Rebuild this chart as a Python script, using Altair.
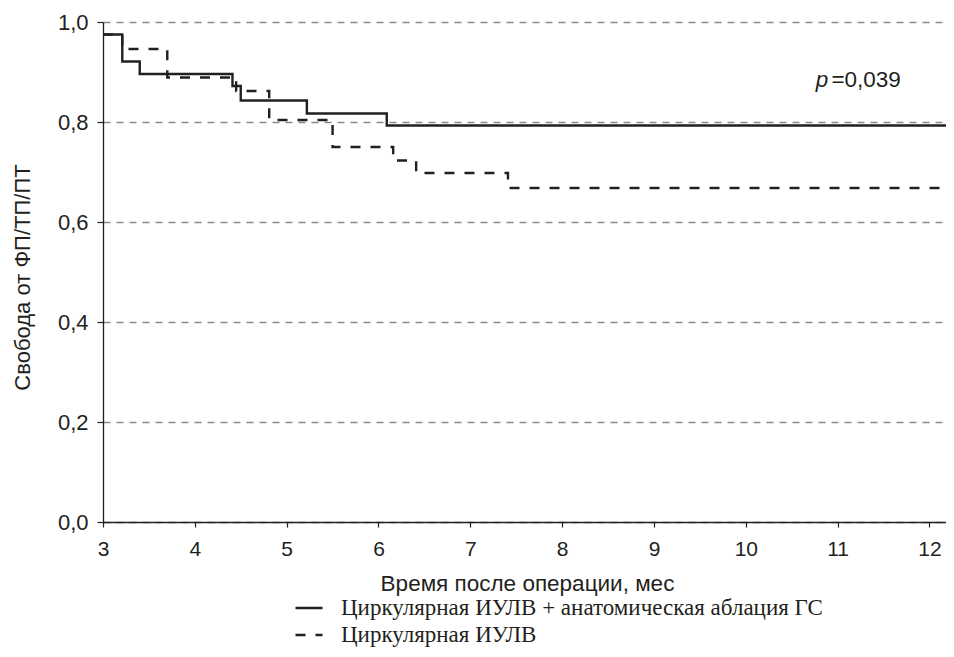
import altair as alt
import pandas as pd

# ---- data ----
label_solid = "Циркулярная ИУЛВ + анатомическая аблация ГС"
label_dashed = "Циркулярная ИУЛВ"

solid_time = [3.0, 3.21, 3.40, 4.41, 4.50, 5.22, 6.09, 12.4]
solid_surv = [0.975, 0.921, 0.896, 0.872, 0.843, 0.817, 0.793, 0.793]

dashed_time = [3.0, 3.21, 3.70, 4.45, 4.81, 5.50, 6.16, 6.41, 7.41, 12.4]
dashed_surv = [0.975, 0.946, 0.889, 0.862, 0.804, 0.750, 0.723, 0.698, 0.668, 0.668]

x_ticks = [3, 4, 5, 6, 7, 8, 9, 10, 11, 12]
y_ticks = [0.0, 0.2, 0.4, 0.6, 0.8, 1.0]

p_x = [10.91]
p_y = [0.87]
p_sym = ["p"]
p_val = ["=0,039"]

x_domain = [3, 12.18]
y_domain = [0, 1]

INK = "#231f20"

rows = []
for t, s in zip(solid_time, solid_surv):
    rows.append({"time": t, "surv": s, "group": label_solid})
for t, s in zip(dashed_time, dashed_surv):
    rows.append({"time": t, "surv": s, "group": label_dashed})
df = pd.DataFrame(rows)

ann = pd.DataFrame({"x": p_x, "y": p_y, "sym": p_sym, "val": p_val})

x_scale = alt.Scale(domain=x_domain, nice=False, zero=False)
y_scale = alt.Scale(domain=y_domain, nice=False)

lines = alt.Chart(df).mark_line(
    interpolate="step-after", color=INK, strokeWidth=2.4, clip=True
).encode(
    x=alt.X(
        "time:Q",
        scale=x_scale,
        axis=alt.Axis(
            values=x_ticks,
            format="d",
            title="Время после операции, мес",
            grid=False,
            tickSize=5,
            labelPadding=11,
            labelFontSize=21,
            titleFontSize=22.5,
            titleX=424,
            titleY=61,
            titleBaseline="middle",
            labelFlush=False,
        ),
    ),
    y=alt.Y(
        "surv:Q",
        scale=y_scale,
        axis=alt.Axis(
            values=y_ticks,
            title="Свобода от ФП/ТП/ПТ",
            grid=True,
            gridDash=[7, 6],
            gridColor="#8a8a8a",
            gridWidth=1.3,
            tickSize=6,
            labelPadding=9,
            labelFontSize=22,
            titleFontSize=22,
            titleX=-81,
            titleY=255,
            titleBaseline="middle",
            labelExpr="replace(format(datum.value, '.1f'), '.', ',')",
        ),
    ),
    strokeDash=alt.StrokeDash(
        "group:N",
        scale=alt.Scale(domain=[label_solid, label_dashed], range=[[1, 0], [10, 10]]),
        legend=alt.Legend(
            title=None,
            orient="none",
            legendX=191,
            legendY=571,
            symbolType="stroke",
            symbolSize=729,
            symbolStrokeWidth=2.5,
            symbolStrokeColor=INK,
            labelFont="Liberation Serif",
            labelFontSize=23,
            labelColor=INK,
            labelOffset=17,
            labelLimit=900,
            rowPadding=0,
        ),
    ),
)

p_text = alt.Chart(ann).mark_text(
    align="right", baseline="alphabetic", fontSize=22.5, fontStyle="italic",
    font="Liberation Sans", color=INK, dx=-1
).encode(x=alt.X("x:Q", scale=x_scale), y=alt.Y("y:Q", scale=y_scale), text="sym:N")

v_text = alt.Chart(ann).mark_text(
    align="left", baseline="alphabetic", fontSize=22.5,
    font="Liberation Sans", color=INK, dx=2
).encode(x=alt.X("x:Q", scale=x_scale), y=alt.Y("y:Q", scale=y_scale), text="val:N")

chart = (
    alt.layer(lines, p_text, v_text)
    .properties(
        width=843,
        height=500,
        autosize=alt.AutoSizeParams(type="none"),
        padding={"left": 95, "top": 14, "right": 0, "bottom": 127},
        background="white",
    )
    .configure_view(stroke=None)
    .configure_axis(
        labelFont="Liberation Sans",
        titleFont="Liberation Sans",
        labelColor=INK,
        titleColor=INK,
        titleFontWeight="normal",
        domainColor=INK,
        domainWidth=1.3,
        tickColor=INK,
        tickWidth=1.2,
    )
)

chart.save("out.html", embed_options={"renderer": "svg", "actions": False})
